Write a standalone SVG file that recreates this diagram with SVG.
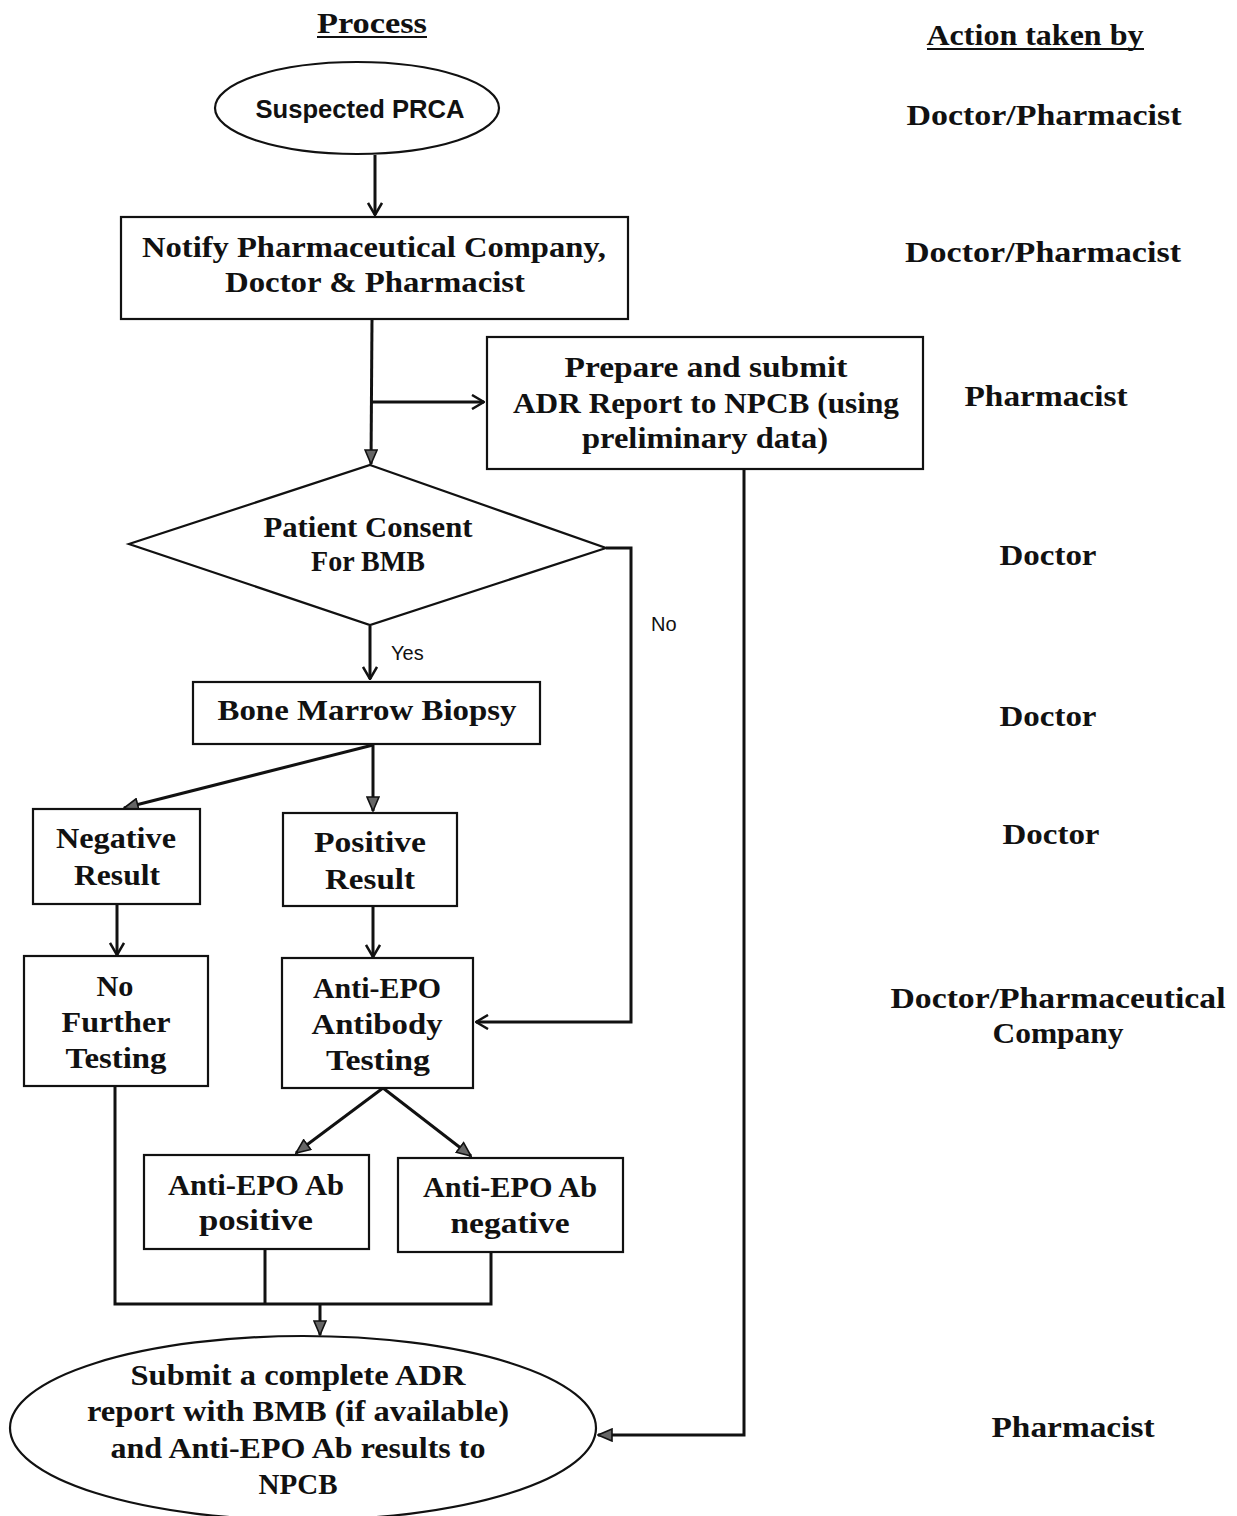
<svg xmlns="http://www.w3.org/2000/svg" width="1237" height="1516" viewBox="0 0 1237 1516">
<style>
.t{font-family:"Liberation Serif","DejaVu Serif",serif;font-weight:bold;font-size:30px;fill:#111;}
.r{font-family:"Liberation Serif","DejaVu Serif",serif;font-weight:bold;font-size:29px;fill:#111;}
.s{font-family:"Liberation Sans","Open Sans",sans-serif;fill:#111;}
.b{fill:#fff;stroke:#111;stroke-width:2.2;}
.c{fill:none;stroke:#111;stroke-width:3;}
.o{marker-end:url(#open);}
.f{marker-end:url(#fill);}
</style>
<defs>
<marker id="open" viewBox="0 0 14 16" refX="13" refY="8" markerWidth="14" markerHeight="16" markerUnits="userSpaceOnUse" orient="auto"><path d="M1,1 L13,8 L1,15" fill="none" stroke="#111" stroke-width="2.5"/></marker>
<marker id="fill" viewBox="0 0 16 14" refX="15" refY="7" markerWidth="16" markerHeight="14" markerUnits="userSpaceOnUse" orient="auto"><path d="M1,1 L15,7 L1,13 z" fill="#666" stroke="#111" stroke-width="1.6"/></marker>
</defs>
<rect width="1237" height="1516" fill="#fff"/>

<g id="headers">
<text class="r" x="372" y="33" text-anchor="middle" textLength="110" lengthAdjust="spacingAndGlyphs">Process</text>
<line x1="317" y1="37" x2="427" y2="37" stroke="#111" stroke-width="2"/>
<text class="r" x="1035" y="45" text-anchor="middle" textLength="217" lengthAdjust="spacingAndGlyphs">Action taken by</text>
<line x1="927" y1="49" x2="1144" y2="49" stroke="#111" stroke-width="2"/>
</g>

<g id="connectors">
<line class="c o" x1="375" y1="155" x2="375" y2="215"/>
<line class="c f" x1="372" y1="319" x2="371" y2="464"/>
<line class="c o" x1="372" y1="402" x2="484" y2="402"/>
<line class="c o" x1="370" y1="626" x2="370" y2="679"/>
<polyline class="c o" points="606,548 631,548 631,1022 476,1022"/>
<line class="c f" x1="373" y1="745" x2="124" y2="808" stroke-width="3.5"/>
<line class="c f" x1="373" y1="745" x2="373" y2="811"/>
<line class="c o" x1="117" y1="904" x2="117" y2="955"/>
<line class="c o" x1="373" y1="906" x2="373" y2="957"/>
<line class="c f" x1="383" y1="1088" x2="296" y2="1153" stroke-width="3.5"/>
<line class="c f" x1="383" y1="1088" x2="471" y2="1156" stroke-width="3.5"/>
<polyline class="c" points="115,1086 115,1304 491,1304 491,1252"/>
<line class="c" x1="265" y1="1249" x2="265" y2="1304"/>
<line class="c f" x1="320" y1="1304" x2="320" y2="1335"/>
<polyline class="c f" points="744,469 744,1435 598,1435"/>
<text class="s" x="651" y="631" font-size="20">No</text>
<text class="s" x="391" y="660" font-size="20">Yes</text>
</g>

<g id="n-suspected">
<ellipse class="b" cx="357" cy="108" rx="142" ry="46"/>
<text class="s" x="360" y="118" text-anchor="middle" font-size="26" font-weight="bold" textLength="209" lengthAdjust="spacingAndGlyphs">Suspected PRCA</text>
</g>

<g id="n-notify">
<rect class="b" x="121" y="217" width="507" height="102"/>
<text class="t" x="374" y="257" text-anchor="middle" textLength="464" lengthAdjust="spacingAndGlyphs">Notify Pharmaceutical Company,</text>
<text class="t" x="375" y="292" text-anchor="middle" textLength="300" lengthAdjust="spacingAndGlyphs">Doctor &amp; Pharmacist</text>
</g>

<g id="n-adr">
<rect class="b" x="487" y="337" width="436" height="132"/>
<text class="t" x="706" y="377" text-anchor="middle" textLength="283" lengthAdjust="spacingAndGlyphs">Prepare and submit</text>
<text class="t" x="706" y="413" text-anchor="middle" textLength="386" lengthAdjust="spacingAndGlyphs">ADR Report to NPCB (using</text>
<text class="t" x="705" y="448" text-anchor="middle" textLength="246" lengthAdjust="spacingAndGlyphs">preliminary data)</text>
</g>

<g id="n-consent">
<polygon class="b" points="370,465 606,548 370,625 129,544"/>
<text class="t" x="368" y="537" text-anchor="middle" font-size="27" textLength="209" lengthAdjust="spacingAndGlyphs">Patient Consent</text>
<text class="t" x="368" y="571" text-anchor="middle" font-size="27" textLength="114" lengthAdjust="spacingAndGlyphs">For BMB</text>
</g>

<g id="n-bmb">
<rect class="b" x="193" y="682" width="347" height="62"/>
<text class="t" x="367" y="720" text-anchor="middle" textLength="299" lengthAdjust="spacingAndGlyphs">Bone Marrow Biopsy</text>
</g>

<g id="n-negative">
<rect class="b" x="33" y="809" width="167" height="95"/>
<text class="t" x="116" y="848" text-anchor="middle" textLength="120" lengthAdjust="spacingAndGlyphs">Negative</text>
<text class="t" x="117" y="885" text-anchor="middle" textLength="86" lengthAdjust="spacingAndGlyphs">Result</text>
</g>

<g id="n-positive">
<rect class="b" x="283" y="813" width="174" height="93"/>
<text class="t" x="370" y="852" text-anchor="middle" textLength="112" lengthAdjust="spacingAndGlyphs">Positive</text>
<text class="t" x="370" y="889" text-anchor="middle" textLength="90" lengthAdjust="spacingAndGlyphs">Result</text>
</g>

<g id="n-nofurther">
<rect class="b" x="24" y="956" width="184" height="130"/>
<text class="t" x="115" y="996" text-anchor="middle" textLength="37" lengthAdjust="spacingAndGlyphs">No</text>
<text class="t" x="116" y="1032" text-anchor="middle" textLength="109" lengthAdjust="spacingAndGlyphs">Further</text>
<text class="t" x="116" y="1068" text-anchor="middle" textLength="101" lengthAdjust="spacingAndGlyphs">Testing</text>
</g>

<g id="n-antiepo">
<rect class="b" x="282" y="958" width="191" height="130"/>
<text class="t" x="377" y="998" text-anchor="middle" textLength="128" lengthAdjust="spacingAndGlyphs">Anti-EPO</text>
<text class="t" x="377" y="1034" text-anchor="middle" textLength="131" lengthAdjust="spacingAndGlyphs">Antibody</text>
<text class="t" x="378" y="1070" text-anchor="middle" textLength="104" lengthAdjust="spacingAndGlyphs">Testing</text>
</g>

<g id="n-abpos">
<rect class="b" x="144" y="1155" width="225" height="94"/>
<text class="t" x="256" y="1195" text-anchor="middle" textLength="176" lengthAdjust="spacingAndGlyphs">Anti-EPO Ab</text>
<text class="t" x="256" y="1230" text-anchor="middle" textLength="114" lengthAdjust="spacingAndGlyphs">positive</text>
</g>

<g id="n-abneg">
<rect class="b" x="398" y="1158" width="225" height="94"/>
<text class="t" x="510" y="1197" text-anchor="middle" textLength="174" lengthAdjust="spacingAndGlyphs">Anti-EPO Ab</text>
<text class="t" x="510" y="1233" text-anchor="middle" textLength="119" lengthAdjust="spacingAndGlyphs">negative</text>
</g>

<g id="n-submit">
<ellipse class="b" cx="303" cy="1428" rx="293" ry="92" stroke-width="3"/>
<text class="t" x="298" y="1385" text-anchor="middle" textLength="335" lengthAdjust="spacingAndGlyphs">Submit a complete ADR</text>
<text class="t" x="298" y="1421" text-anchor="middle" textLength="422" lengthAdjust="spacingAndGlyphs">report with BMB (if available)</text>
<text class="t" x="298" y="1458" text-anchor="middle" textLength="375" lengthAdjust="spacingAndGlyphs">and Anti-EPO Ab results to</text>
<text class="t" x="298" y="1494" text-anchor="middle" textLength="79" lengthAdjust="spacingAndGlyphs">NPCB</text>
</g>

<g id="actors">
<text class="r" x="1044" y="125" text-anchor="middle" textLength="275" lengthAdjust="spacingAndGlyphs">Doctor/Pharmacist</text>
<text class="r" x="1043" y="262" text-anchor="middle" textLength="276" lengthAdjust="spacingAndGlyphs">Doctor/Pharmacist</text>
<text class="r" x="1046" y="406" text-anchor="middle" textLength="163" lengthAdjust="spacingAndGlyphs">Pharmacist</text>
<text class="r" x="1048" y="565" text-anchor="middle" textLength="97" lengthAdjust="spacingAndGlyphs">Doctor</text>
<text class="r" x="1048" y="726" text-anchor="middle" textLength="97" lengthAdjust="spacingAndGlyphs">Doctor</text>
<text class="r" x="1051" y="844" text-anchor="middle" textLength="97" lengthAdjust="spacingAndGlyphs">Doctor</text>
<text class="r" x="1058" y="1008" text-anchor="middle" textLength="335" lengthAdjust="spacingAndGlyphs">Doctor/Pharmaceutical</text>
<text class="r" x="1058" y="1043" text-anchor="middle" textLength="131" lengthAdjust="spacingAndGlyphs">Company</text>
<text class="r" x="1073" y="1437" text-anchor="middle" textLength="163" lengthAdjust="spacingAndGlyphs">Pharmacist</text>
</g>
</svg>
